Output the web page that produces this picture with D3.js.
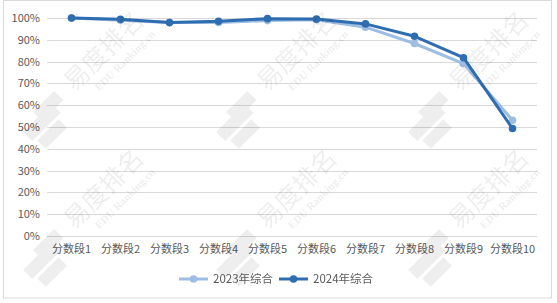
<!DOCTYPE html>
<html lang="zh">
<head>
  <meta charset="utf-8" />
  <title>分数段综合</title>
  <script src="https://cdn.jsdelivr.net/npm/d3@7"></script>
  <style>
    body { margin: 0; background: #fff; }
    svg text { font-family: "Noto Sans CJK SC", "Noto Sans", sans-serif; }
    .tick-label { fill: #595959; font-size: 11px; }
    .grid-line { stroke: #d9d9d9; stroke-width: 1px; }
    .wm { fill: #000; opacity: 0.07; }
  </style>
</head>
<body>
<script>
  var w = 557;
  var h = 303;
  var margin = { top: 18, right: 20, bottom: 67, left: 47 };

  // chart values
  var categories = ["分数段1", "分数段2", "分数段3", "分数段4", "分数段5",
                    "分数段6", "分数段7", "分数段8", "分数段9", "分数段10"];
  var seriesNames = ["2023年综合", "2024年综合"];
  var values2023 = [100, 99.0, 97.9, 97.9, 98.8, 99.2, 95.8, 88.3, 79.1, 53.1];
  var values2024 = [100, 99.4, 97.9, 98.5, 99.7, 99.5, 97.3, 91.6, 81.8, 49.3];
  var yTicks = [0, 10, 20, 30, 40, 50, 60, 70, 80, 90, 100];
  var colors = ["#9dbde2", "#2e6db0"];

  var series = [values2023, values2024].map(function(vals, i) {
    return { name: seriesNames[i], color: colors[i],
      points: vals.map(function(v, j) { return { cat: categories[j], value: v }; }) };
  });

  var svg = d3.select("body").append("svg")
    .attr("width", w)
    .attr("height", h);

  svg.append("rect")
    .attr("x", 3.5).attr("y", 0.5)
    .attr("width", 548).attr("height", 297.5)
    .attr("fill", "#fff")
    .attr("stroke", "#d9d9d9");

  var plotW = 490;
  var plotH = 218;

  var xScale = d3.scaleBand()
    .domain(categories)
    .range([0, plotW]);

  var yScale = d3.scaleLinear()
    .domain([0, 100])
    .range([plotH, 0]);

  var g = svg.append("g")
    .attr("transform", "translate(" + margin.left + "," + margin.top + ")");

  // gridlines
  g.selectAll(".grid-line")
    .data(yTicks)
    .enter()
    .append("line")
    .attr("class", "grid-line")
    .attr("x1", 0)
    .attr("x2", plotW)
    .attr("y1", function(d) { return Math.round(yScale(d)) + 0.5; })
    .attr("y2", function(d) { return Math.round(yScale(d)) + 0.5; });

  var yAxis = d3.axisLeft(yScale)
    .tickValues(yTicks)
    .tickSize(0)
    .tickPadding(7)
    .tickFormat(function(d) { return d + "%"; });

  var yg = g.append("g").call(yAxis);
  yg.select(".domain").remove();
  yg.selectAll("text").attr("class", "tick-label").attr("font-family", null);

  var xAxis = d3.axisBottom(xScale)
    .tickSize(0)
    .tickPadding(9);

  var xg = g.append("g")
    .attr("transform", "translate(0," + plotH + ")")
    .call(xAxis);
  xg.select(".domain").remove();
  xg.selectAll("text").attr("class", "tick-label").attr("font-family", null);

  // watermark tiles
  var wmCentersX = [105, 298, 490];
  var wmCentersY = [52, 190];
  var wm = svg.append("g").attr("class", "wm");
  wmCentersY.forEach(function(cy) {
    wmCentersX.forEach(function(cx) {
      var t = wm.append("g")
        .attr("transform", "translate(" + cx + "," + cy + ") rotate(-45)");
      t.append("text")
        .attr("text-anchor", "middle")
        .attr("y", 7)
        .style("font-size", "25px")
        .text("易度排名");
      t.append("text")
        .attr("text-anchor", "middle")
        .attr("x", 8)
        .attr("y", 24)
        .style("font-family", "'Liberation Serif', serif")
        .style("font-size", "11px")
        .style("font-weight", "bold")
        .text("EDU Ranking.cn");
      var logo = wm.append("g")
        .attr("transform", "translate(" + (cx - 55) + "," + (cy + 70) + ") rotate(-45)");
      logo.append("rect").attr("x", -26).attr("y", -12).attr("width", 40).attr("height", 13);
      logo.append("rect").attr("x", -22).attr("y", 4).attr("width", 30).attr("height", 12);
      logo.append("rect").attr("x", 4).attr("y", -28).attr("width", 13).attr("height", 30)
        .attr("transform", "rotate(90, 10, -13)");
    });
  });

  var line = d3.line()
    .x(function(d) { return xScale(d.cat) + xScale.bandwidth() / 2; })
    .y(function(d) { return yScale(d.value); });

  var sg = g.selectAll(".series")
    .data(series)
    .enter()
    .append("g")
    .attr("class", "series");

  sg.append("path")
    .attr("fill", "none")
    .attr("stroke", function(d) { return d.color; })
    .attr("stroke-width", 3)
    .attr("stroke-linejoin", "round")
    .attr("d", function(d) { return line(d.points); });

  sg.each(function(s) {
    d3.select(this).selectAll("circle")
      .data(s.points)
      .enter()
      .append("circle")
      .attr("cx", function(d) { return xScale(d.cat) + xScale.bandwidth() / 2; })
      .attr("cy", function(d) { return yScale(d.value); })
      .attr("r", 3.8)
      .attr("fill", s.color);
  });

  // legend
  var legendX = [179, 279];
  var legendY = 279;
  var lg = svg.selectAll(".legend-item")
    .data(series)
    .enter()
    .append("g")
    .attr("class", "legend-item")
    .attr("transform", function(d, i) { return "translate(" + legendX[i] + "," + legendY + ")"; });

  lg.append("line")
    .attr("x1", 0).attr("x2", 29)
    .attr("stroke", function(d) { return d.color; })
    .attr("stroke-width", 3);

  lg.append("circle")
    .attr("cx", 14.5)
    .attr("r", 3.8)
    .attr("fill", function(d) { return d.color; });

  lg.append("text")
    .attr("class", "tick-label")
    .attr("x", 34)
    .attr("dy", "0.35em")
    .style("font-size", "11.5px")
    .text(function(d) { return d.name; });
</script>
</body>
</html>
